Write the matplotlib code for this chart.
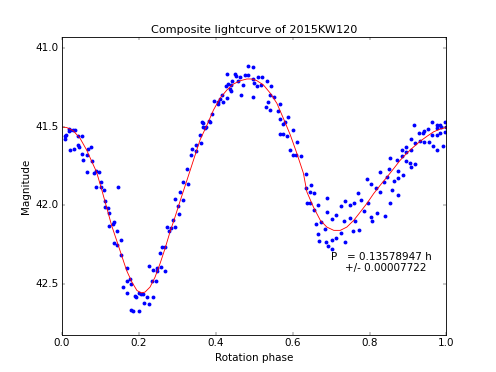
import matplotlib
matplotlib.use("Agg")
import matplotlib.pyplot as plt

# Observed data: rotation phase and magnitude
phase = [0.008, 0.008, 0.010, 0.018, 0.021, 0.018, 0.029, 0.034, 0.042, 0.053,
         0.042, 0.044, 0.022, 0.032, 0.068, 0.076, 0.051, 0.064, 0.055, 0.077,
         0.066, 0.084, 0.088, 0.097, 0.102, 0.089, 0.101, 0.109, 0.146, 0.111,
         0.111, 0.119, 0.121, 0.135,
         0.132, 0.123, 0.144, 0.154, 0.135, 0.144, 0.154, 0.170, 0.177, 0.168,
         0.180, 0.158, 0.168, 0.189, 0.192, 0.201, 0.206, 0.212, 0.222, 0.236,
         0.214, 0.227, 0.179, 0.186, 0.201, 0.227, 0.238, 0.247, 0.258, 0.248,
         0.269, 0.234, 0.245, 0.256, 0.260, 0.269, 0.273, 0.283, 0.279, 0.293,
         0.290,
         0.294, 0.316, 0.307, 0.301, 0.304, 0.314, 0.329, 0.326, 0.336, 0.349,
         0.337, 0.348, 0.359, 0.361, 0.363, 0.366, 0.371, 0.374, 0.368, 0.382,
         0.384, 0.391, 0.396, 0.405, 0.405, 0.410, 0.417, 0.418, 0.430, 0.426,
         0.433, 0.440, 0.438, 0.439, 0.442, 0.429, 0.451, 0.453, 0.464, 0.466,
         0.458, 0.477, 0.485, 0.485, 0.496, 0.496, 0.472, 0.499, 0.507, 0.510,
         0.498,
         0.521, 0.532, 0.518, 0.545, 0.542, 0.552, 0.535, 0.530, 0.541, 0.567,
         0.562, 0.566, 0.574, 0.579, 0.588, 0.600, 0.566, 0.576, 0.586, 0.612,
         0.593, 0.601, 0.609, 0.622, 0.635, 0.647, 0.635, 0.655, 0.644, 0.690,
         0.638, 0.645, 0.665, 0.655,
         0.689, 0.702, 0.714, 0.726, 0.737, 0.750, 0.760, 0.770, 0.733, 0.748,
         0.763, 0.661, 0.674, 0.667, 0.683, 0.669, 0.688, 0.703, 0.712, 0.692,
         0.702, 0.726, 0.737, 0.756, 0.772, 0.779, 0.795, 0.786, 0.805, 0.807,
         0.793, 0.805, 0.818, 0.827, 0.826, 0.837, 0.846, 0.820, 0.852,
         0.850, 0.852, 0.872, 0.884, 0.863, 0.875, 0.875, 0.887, 0.859, 0.873,
         0.840, 0.884, 0.895, 0.895, 0.907, 0.896, 0.906, 0.908, 0.919, 0.907,
         0.918, 0.932, 0.943, 0.954, 0.929, 0.940, 0.942, 0.951, 0.963, 0.976,
         0.984, 0.997, 0.998, 0.917, 0.963, 0.976, 0.984, 0.996, 0.987, 0.976,
         0.964, 0.975, 0.990]
mag = [41.562, 41.577, 41.551, 41.526, 41.519, 41.515, 41.519, 41.521, 41.562, 41.562,
       41.615, 41.632, 41.651, 41.645, 41.643, 41.630, 41.675, 41.683, 41.713, 41.721,
       41.789, 41.796, 41.781, 41.789, 41.851, 41.885, 41.887, 41.902, 41.887, 41.973,
       42.013, 42.015, 42.051, 42.109,
       42.117, 42.132, 42.164, 42.223, 42.238, 42.251, 42.315, 42.398, 42.468, 42.481,
       42.504, 42.519, 42.557, 42.576, 42.583, 42.562, 42.568, 42.564, 42.585, 42.587,
       42.625, 42.632, 42.666, 42.675, 42.675, 42.385, 42.410, 42.398, 42.394, 42.421,
       42.417, 42.483, 42.483, 42.302, 42.266, 42.264, 42.139, 42.145, 42.166, 42.140,
       42.096,
       41.962, 41.964, 41.915, 42.005, 42.056, 41.853, 41.864, 41.770, 41.677, 41.654,
       41.645, 41.619, 41.551, 41.606, 41.470, 41.479, 41.511, 41.502, 41.500, 41.462,
       41.468, 41.417, 41.338, 41.343, 41.355, 41.322, 41.298, 41.343, 41.315, 41.239,
       41.228, 41.234, 41.262, 41.271, 41.211, 41.166, 41.164, 41.177, 41.181, 41.296,
       41.207, 41.170, 41.168, 41.115, 41.121, 41.196, 41.236, 41.220, 41.241, 41.181,
       41.313,
       41.185, 41.211, 41.236, 41.243, 41.298, 41.309, 41.345, 41.373, 41.396, 41.357,
       41.398, 41.449, 41.481, 41.468, 41.440, 41.519, 41.549, 41.549, 41.558, 41.598,
       41.651, 41.683, 41.681, 41.687, 41.798, 41.874, 41.893, 41.923, 41.915, 41.953,
       41.985, 41.985, 42.000, 42.028,
       42.043, 42.085, 42.064, 42.006, 41.976, 42.000, 41.985, 41.922, 42.102, 42.081,
       42.102, 42.117, 42.109, 42.181, 42.151, 42.228, 42.234, 42.223, 42.206, 42.262,
       42.281, 42.177, 42.236, 42.164, 42.160, 41.964, 41.983, 42.036, 42.075, 42.100,
       41.836, 41.866, 41.890, 41.917, 41.791, 41.851, 41.819, 42.047, 41.985,
       41.772, 41.698, 41.713, 41.685, 41.847, 41.826, 41.781, 41.809, 41.904, 41.934,
       42.070, 41.649, 41.628, 41.660, 41.649, 41.717, 41.728, 41.756, 41.740, 41.579,
       41.606, 41.592, 41.596, 41.600, 41.542, 41.542, 41.526, 41.517, 41.553, 41.553,
       41.542, 41.536, 41.504, 41.488, 41.468, 41.489, 41.489, 41.468, 41.504, 41.507,
       41.625, 41.649, 41.623]

# Fitted lightcurve
fit_phase = [0.000, 0.012, 0.029, 0.047, 0.064, 0.077, 0.090, 0.103, 0.116, 0.129,
             0.142, 0.155, 0.168, 0.182, 0.195, 0.206, 0.216, 0.229, 0.242, 0.255,
             0.268, 0.281, 0.294, 0.307, 0.325, 0.342, 0.359, 0.377, 0.394, 0.411,
             0.429, 0.446, 0.464, 0.481, 0.494, 0.507, 0.524, 0.542, 0.559, 0.576,
             0.594, 0.611, 0.628, 0.637, 0.654, 0.672, 0.689, 0.707, 0.724, 0.741,
             0.759, 0.776, 0.793, 0.811, 0.828, 0.846, 0.863, 0.880, 0.898, 0.915,
             0.932, 0.950, 0.967, 0.984, 1.000]
fit_mag = [41.502, 41.505, 41.525, 41.574, 41.648, 41.719, 41.789, 41.898, 42.013, 42.128,
           42.223, 42.319, 42.415, 42.490, 42.543, 42.558, 42.553, 42.521, 42.458, 42.372,
           42.276, 42.170, 42.075, 41.975, 41.841, 41.713, 41.585, 41.490, 41.394, 41.319,
           41.266, 41.228, 41.207, 41.196, 41.196, 41.207, 41.234, 41.287, 41.351, 41.447,
           41.553, 41.670, 41.796, 41.915, 42.011, 42.096, 42.139, 42.160, 42.160, 42.139,
           42.096, 42.043, 41.989, 41.925, 41.872, 41.819, 41.766, 41.713, 41.666, 41.628,
           41.592, 41.560, 41.532, 41.515, 41.505]

xticks = [0.0, 0.2, 0.4, 0.6, 0.8, 1.0]
yticks = [41.0, 41.5, 42.0, 42.5]

plt.style.use('classic')
fig = plt.figure(figsize=(8, 6), dpi=62, facecolor='white')
ax = fig.add_subplot(111)
ax.set_facecolor('white')

ax.plot(phase, mag, 'o', color='blue', mec='blue', ms=4.5, mew=0, linestyle='none')
ax.plot(fit_phase, fit_mag, '-', color='red', lw=1.0)

ax.set_xlim(0, 1)
ax.set_ylim(42.825, 40.93)
ax.set_xticks(xticks)
ax.set_yticks(yticks)
ax.ticklabel_format(useOffset=False)
ax.set_xticklabels([f"{t:.1f}" for t in xticks])
ax.set_yticklabels([f"{t:.1f}" for t in yticks])

ax.set_title("Composite lightcurve of 2015KW120", fontsize=13)
ax.set_xlabel("Rotation phase", fontsize=12)
ax.set_ylabel("Magnitude", fontsize=12)
ax.tick_params(labelsize=12)

ax.text(0.70, 42.33, "P   = 0.13578947 h", fontsize=12, va='center', ha='left')
ax.text(0.737, 42.40, "+/- 0.00007722", fontsize=12, va='center', ha='left')

fig.savefig("out.png", dpi=62, facecolor='white')
